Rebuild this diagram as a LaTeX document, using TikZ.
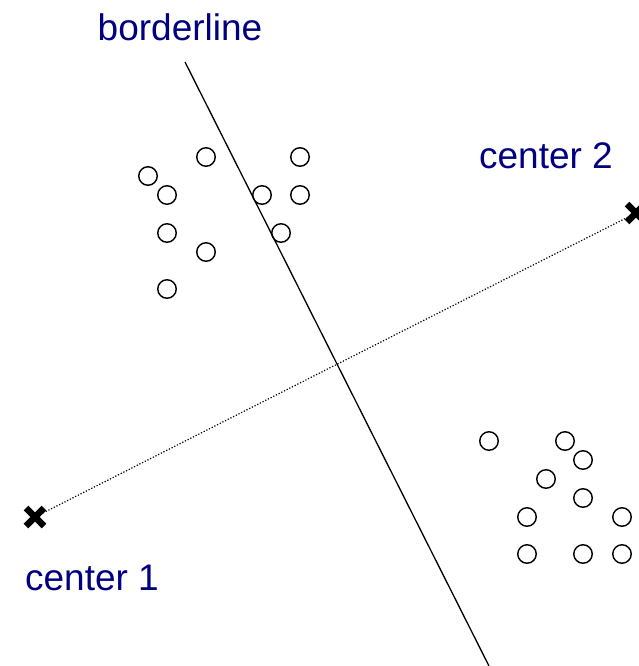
\documentclass[tikz,border=0pt]{standalone}
\usepackage{fontspec}
\setmainfont{Liberation Sans}
\usetikzlibrary{calc}
\definecolor{labelblue}{RGB}{0,0,128}
\begin{document}
\begin{tikzpicture}[x=1pt,y=-1pt,
  pt/.style={circle,draw,line width=1.4pt,minimum size=18.5pt,inner sep=0pt},
  lbl/.style={text=labelblue,font=\fontsize{37}{40}\selectfont,inner sep=0pt},
  cross/.style={line width=6.5pt}]
\useasboundingbox (0,0) rectangle (638,666);
% labels
\node[lbl] (tb) at (180,27) {borderline};
\node[lbl] (t2) at (546,156) {center 2};
\node[lbl] (t1) at (92,578) {center 1};
% borderline
\coordinate (b1) at (185,62);
\coordinate (b2) at (490,668);
\draw[line width=1.3pt] (b1) -- (b2);
% centers
\coordinate (c1) at (35,517);
\coordinate (c2) at (636,213);
\draw[line width=1.2pt,dash pattern=on 1.2pt off 1.8pt] (c1) -- (c2);
\foreach \c in {c1,c2}{
  \draw[cross] ($(\c)+(-9,-9)$) -- ($(\c)+(9,9)$);
  \draw[cross] ($(\c)+(-9,9)$) -- ($(\c)+(9,-9)$);
}
% cluster 1
\foreach \x/\y [count=\i] in {148/176,167/195,206/157,167/233,206/252,167/289,262/195,300/157,300/195,281/233}
  \node[pt] (a\i) at (\x,\y) {};
% cluster 2
\foreach \x/\y [count=\i] in {489/441,565/441,583/460,546/479,583/498,527/517,622/517,527/554,583/554,622/554}
  \node[pt] (p\i) at (\x,\y) {};
\end{tikzpicture}
\end{document}
